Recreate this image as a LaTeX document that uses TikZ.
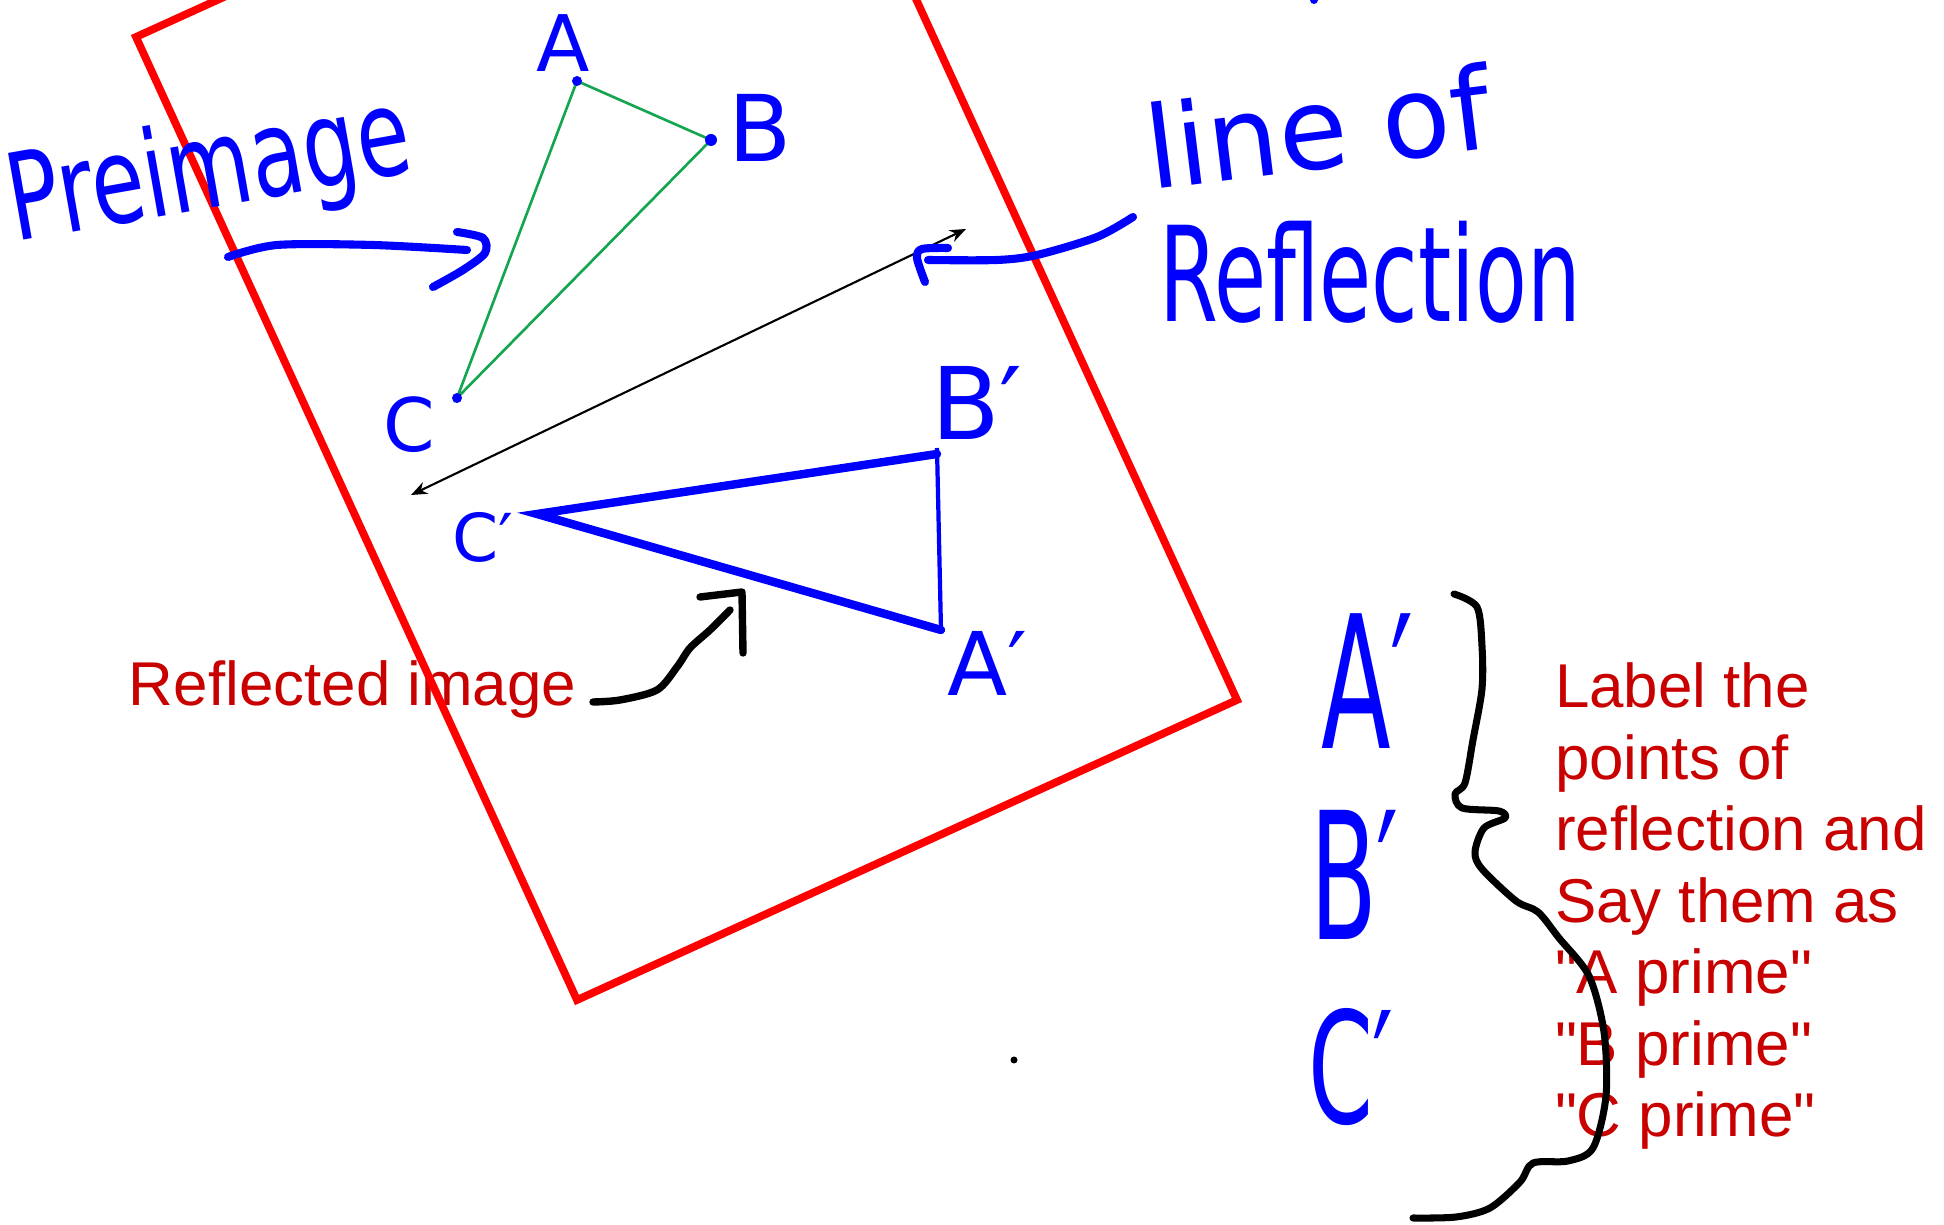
\documentclass[tikz,border=0pt]{standalone}
\usepackage{fontspec}
\setmainfont{Liberation Sans}[Ligatures=TeXOff]
\newfontfamily\hand{DejaVu Sans}
\usetikzlibrary{arrows.meta}
\definecolor{rectred}{RGB}{255,0,0}
\definecolor{txtred}{RGB}{200,0,0}
\definecolor{inkblue}{RGB}{0,0,255}
\definecolor{trigreen}{RGB}{20,165,80}
\begin{document}
\begin{tikzpicture}[x=0.01cm,y=-0.01cm,
  hwf/.style={font=\hand\fontsize{#1}{#1}\selectfont, text=inkblue, inner sep=0pt, outer sep=0pt, anchor=base west},
  redtxt/.style={font=\fontsize{17.6}{20.34}\selectfont, text=txtred, inner sep=0pt, outer sep=0pt, anchor=base west},
  ink/.style={draw=inkblue, line width=2.3pt, line cap=round, line join=round},
  blackink/.style={draw=black, line width=2.1pt, line cap=round, line join=round},
  frame/.style={draw=rectred, line width=2.2pt, line join=miter},
  tri/.style={draw=trigreen, line width=0.75pt},
  imgthick/.style={draw=inkblue, line width=2.4pt, line cap=round},
  imgthin/.style={draw=inkblue, line width=1.2pt},
  mirror/.style={draw=black, line width=0.6pt, {Stealth[length=4.6pt,width=3.6pt]}-{Stealth[length=4.6pt,width=3.6pt]}},
]
\useasboundingbox (0,0) rectangle (1944,1225);
\clip (0,0) rectangle (1944,1225);

% typed red texts
\node[redtxt] (refimg) at (129,706) {Reflected image};
\node[redtxt] (t1) at (1555,708) {Label the};
\node[redtxt] (t2) at (1555,779.5) {points of};
\node[redtxt] (t3) at (1555,851) {reflection and};
\node[redtxt] (t4) at (1555,922.5) {Say them as};
\node[redtxt] (t5) at (1555,994) {"A prime"};
\node[redtxt] (t6) at (1555,1065.5) {"B prime"};
\node[redtxt] (t7) at (1555,1137) {"C prime"};

% red frame
\coordinate (TL) at (136,37);
\coordinate (BL) at (577,1000);
\coordinate (BR) at (1237,700);
\coordinate (TR) at (796,-263);
\draw[frame] (TL) -- (BL) -- (BR) -- (TR) -- cycle;

% preimage triangle
\coordinate (A) at (577,81);
\coordinate (B) at (711,140);
\coordinate (C) at (457,398);
\draw[tri] (A) -- (B) -- (C) -- cycle;
\fill[inkblue] (A) circle (5);
\fill[inkblue] (B) circle (6);
\fill[inkblue] (C) circle (5);

% line of reflection
\coordinate (L1) at (411,495);
\coordinate (L2) at (966,229);
\draw[mirror] (L1) -- (L2);

% reflected image triangle
\coordinate (Cp) at (537,514);
\coordinate (Bp) at (937,454);
\coordinate (Bptop) at (937,448);
\coordinate (Ap) at (941,630);
\draw[imgthick] (Ap) -- (Cp) -- (Bp);
\draw[imgthin] (Bptop) -- (Ap);

% handwritten labels
\node[hwf=24.5, rotate=10, yscale=1.4] (pre) at (16,242) {Preimage};
\node[hwf=27, rotate=7, xscale=1.18, yscale=1.2] (lineof) at (1151,190) {line of};
\node[hwf=31.3, xscale=0.77, yscale=1.2] (refl) at (1159,322) {Reflection};
\node[hwf=22.2] (lA) at (536,72) {A};
\node[hwf=26.2] (lB) at (728,162) {B};
\node[hwf=21] (lC) at (383,452) {C};
\node[hwf=28.5] (lBp) at (931,440) {B′};
\node[hwf=18.8] (lCp) at (452,562) {C′};
\node[hwf=25] (lAp) at (947,696) {A′};
\node[hwf=52.6, xscale=0.55] (bigA) at (1321,749) {A′};
\node[hwf=50.4, xscale=0.55] (bigB) at (1310,940) {B′};
\node[hwf=44.1, xscale=0.6] (bigC) at (1308,1124) {C′};

% hand-drawn arrows
\coordinate (p0) at (228,257);
\coordinate (p1) at (467,250);
\draw[ink] plot[smooth] coordinates {(p0) (277,245) (373,245) (p1)};
\draw[ink] plot[smooth] coordinates {(457,232) (483,238) (485,253) (463,270) (433,287)};

\coordinate (q0) at (1133,217);
\coordinate (q1) at (928,260);
\draw[ink] plot[smooth] coordinates {(q0) (1097,237) (1037,255) (997,260) (q1)};
\draw[ink] plot[smooth] coordinates {(948,248) (922,249) (917,258) (925,282)};

\coordinate (r0) at (593,702);
\coordinate (r1) at (730,610);
\draw[blackink] plot[smooth] coordinates {(r0) (620,700) (657,690) (677,667) (690,648) (710,630) (r1)};
\draw[blackink] (700,597) -- (742,592) -- (743,653);

% brace
\draw[blackink, line width=2pt] plot[smooth] coordinates {(1454,594) (1477,607) (1482,646) (1482,689) (1473,740) (1465,783) (1455,794) (1462,808) (1499,811) (1505,818) (1484,828) (1475,852) (1482,869) (1516,901) (1538,912) (1559,938) (1589,976) (1604,1032) (1606,1096) (1593,1148) (1568,1161) (1533,1163) (1520,1182) (1490,1208) (1456,1217) (1413,1218)};

% stray dots
\fill[black] (1014,1060) circle (3.5);
\fill[inkblue] (1314,0) circle (4);
\end{tikzpicture}
\end{document}
